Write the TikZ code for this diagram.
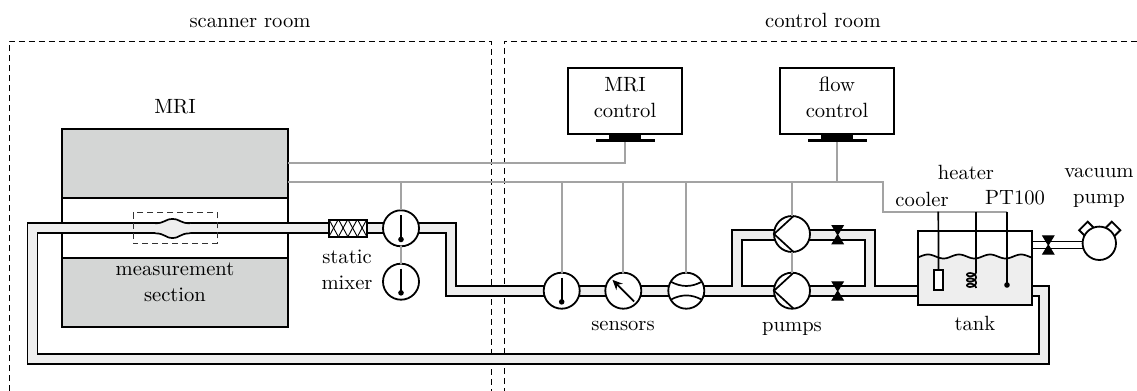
\documentclass[tikz,border=0pt]{standalone}
\usepackage{xcolor}
\usepackage{tikz}
\usetikzlibrary{shapes,arrows,arrows.meta,calc,positioning}
\definecolor{pipegray}{HTML}{EEEEEE}
\definecolor{magnetgray}{HTML}{D4D6D5}
\definecolor{signalgray}{HTML}{A3A3A3}

\begin{document}
\begin{tikzpicture}[
  x=0.5pt, y=-0.5pt,
  every node/.style={font=\fontsize{10.3}{13}\selectfont, inner sep=0pt, outer sep=0pt},
  label/.style={align=center},
  room/.style={densely dashed, line width=0.4pt},
  magnet/.style={rectangle, draw, line width=0.9pt, fill=magnetgray, minimum width=113pt, minimum height=34.5pt},
  bore/.style={rectangle, draw, line width=0.9pt, fill=white, minimum width=113pt, minimum height=30pt},
  pipe/.style={draw=black, line width=0.85pt, double=pipegray, double distance=4.15pt},
  vacline/.style={draw=black, line width=0.6pt, double=white, double distance=2.7pt},
  signal/.style={draw=signalgray, line width=0.85pt},
  probe/.style={draw=black, line width=0.85pt},
  instrument/.style={circle, draw, line width=0.9pt, fill=white, minimum size=18pt},
  monitor/.style={rectangle, draw, line width=0.9pt, fill=white, minimum width=57pt, minimum height=33pt},
  monstand/.style={rectangle, fill=black, minimum width=16pt, minimum height=2.5pt},
  monbase/.style={rectangle, fill=black, minimum width=29.5pt, minimum height=1.4pt},
  valve/.style={rectangle, minimum width=5.6pt, minimum height=9.2pt},
  mixerbox/.style={rectangle, draw, line width=1pt, fill=white, minimum width=19pt, minimum height=8.5pt},
  tankbox/.style={rectangle, minimum width=57pt, minimum height=37pt},
  ear/.style={rectangle, draw, line width=0.9pt, fill=white, minimum width=6pt, minimum height=5pt},
  arrow/.style={-{Stealth[length=5pt,width=4.5pt]}, line width=0.85pt}
]
\useasboundingbox (0,0) rectangle (1137,391);

% rooms
\draw[room] (9,391) |- (491,41) -- (491,391);
\draw[room] (1137,41) -| (504,391);
\node[label] (scanner) at (250,23) {scanner room};
\node[label] (control) at (823,20) {control room};

% magnet
\node[magnet] (mritop) at (175,163.5) {};
\node[magnet] (mribot) at (175,292.5) {};
\node[bore] (mribore) at (175,228) {};
\node[label] (mrilabel) at (175,107) {MRI};
\node[label] (measlabel) at (175,282) {measurement\\section};

% pipe corners
\coordinate (tankin) at (918,291);
\coordinate (tankout) at (1032,291);
\coordinate (bendb) at (451,291);
\coordinate (benda) at (451,228.3);
\coordinate (loopnw) at (32.5,228.3);
\coordinate (loopsw) at (32.5,359);
\coordinate (loopse) at (1044,359);
\coordinate (loopne) at (1044,291);
\coordinate (branchw) at (737,291);
\coordinate (branchnw) at (737,235);
\coordinate (branchne) at (870,235);
\coordinate (branche) at (870,291);
\coordinate (vacin) at (1032,245);
\coordinate (vacout) at (1090,245);

\draw[pipe] (tankin) -- (bendb) -- (benda) -- (loopnw) -- (loopsw) -- (loopse) -- (loopne) -- (tankout)
  (branchw) -- (branchnw) -- (branchne) -- (branche);
\draw[vacline] (vacin) -- (vacout);

% widened part of the test section
\fill[pipegray] (155,223.3) .. controls (165,223.3) and (165,219) .. (172.5,219) .. controls (180,219) and (180,223.3) .. (190,223.3)
  -- (190,233.3) .. controls (180,233.3) and (180,238) .. (172.5,238) .. controls (165,238) and (165,233.3) .. (155,233.3) -- cycle;
\draw[line width=0.85pt] (155,223.3) .. controls (165,223.3) and (165,219) .. (172.5,219) .. controls (180,219) and (180,223.3) .. (190,223.3);
\draw[line width=0.85pt] (155,233.3) .. controls (165,233.3) and (165,238) .. (172.5,238) .. controls (180,238) and (180,233.3) .. (190,233.3);
\draw[room, draw=black!80] (133,212.7) rectangle (217.5,243.3);

% mixer
\node[mixerbox, path picture={
  \foreach \i in {0,1,2,3} {
    \draw[line width=0.45pt] ($(path picture bounding box.south west)+(\i*9.5,0)$) -- ++(9.5,-17.5);
    \draw[line width=0.45pt] ($(path picture bounding box.north west)+(\i*9.5,0)$) -- ++(9.5,17.5);
  }}] (mixer) at (348,228) {};
\node[label] (mixerlabel) at (347,269.5) {static\\mixer};

% sensors
\node[instrument] (tempa) at (401,228.3) {};
\node[instrument] (tempb) at (401,281.7) {};
\node[instrument] (tempc) at (561.7,290.7) {};
\node[instrument] (gauge) at (623.3,290.7) {};
\node[instrument] (flowm) at (686.3,290.7) {};
\foreach \t in {tempa,tempb,tempc} {
  \draw[line width=0.85pt] ($(\t)!0.72!(\t.north)$) -- ($(\t)!0.62!(\t.south)$);
  \fill ($(\t)!0.62!(\t.south)$) circle (2.8);
}
\draw[arrow] ($(gauge)!0.85!(gauge.-45)$) -- ($(gauge)!0.85!(gauge.135)$);
\draw[line width=0.85pt] (flowm.150) to[bend right=28] (flowm.30);
\draw[line width=0.85pt] (flowm.-150) to[bend left=28] (flowm.-30);
\node[label] (sensorlabel) at (623,326) {sensors};

% pumps
\node[instrument] (pumpa) at (792,234) {};
\node[instrument] (pumpb) at (792,290.7) {};
\foreach \p in {pumpa,pumpb} {
  \draw[line width=0.85pt] (\p.85) -- (\p.west) -- (\p.-85);
}
\node[label] (pumplabel) at (792,328.5) {pumps};

% valves
\node[valve] (valvea) at (837.7,234.7) {};
\node[valve] (valveb) at (837.7,291) {};
\node[valve] (valvec) at (1048.3,245) {};
\foreach \v in {valvea,valveb,valvec} {
  \filldraw[line width=0.5pt] (\v.north west) -- (\v.north east) -- (\v.south west) -- (\v.south east) -- cycle;
}

% tank
\node[tankbox] (tank) at (975,268) {};
\fill[pipegray] plot[domain=918:1032, samples=80] (\x, {256.5-2*cos((\x-928)*11.6)}) -- (tank.south east) -- (tank.south west) -- cycle;
\draw[line width=0.85pt] plot[domain=918:1032, samples=80] (\x, {256.5-2*cos((\x-928)*11.6)});
\node[tankbox, draw, line width=1pt] (tankframe) at (975,268) {};
\node[label] (tanklabel) at (975,323) {tank};

% vacuum pump
\node[ear, rotate=45] (eara) at (1087,229.5) {};
\node[ear, rotate=-45] (earb) at (1112.5,229.5) {};
\node[instrument, minimum size=16.7pt] (vacpump) at (1099.3,243.3) {};
\node[label] (vaclabel) at (1099,188) {vacuum\\pump};

% monitors
\node[monitor] (mricontrol) at (625,101) {};
\node[monstand, below=0pt of mricontrol] (mristand) {};
\node[monbase, below=0pt of mristand] (mribase) {};
\node[label] (mritext) at (625,97.5) {MRI\\control};
\node[monitor] (flowcontrol) at (837,101) {};
\node[monstand, below=0pt of flowcontrol] (flowstand) {};
\node[monbase, below=0pt of flowstand] (flowbase) {};
\node[label] (flowtext) at (837,97.5) {flow\\control};

% signal lines
\coordinate (mriout) at (288,162.7);
\coordinate (busin) at (288,182.3);
\coordinate (busend) at (883,182.3);
\coordinate (tanksig) at (883,211.7);
\coordinate (coolertop) at (938.3,211.7);
\coordinate (heatertop) at (976,211.7);
\coordinate (ptend) at (1007,211.7);
\draw[signal] (mriout) -| (mribase.south);
\draw[signal] (busin) -- (busend) -- (tanksig) -- (ptend);
\draw[signal] (flowbase.south) -- (flowbase.south |- busin);
\foreach \s in {tempa,tempc,gauge,flowm,pumpa} {
  \draw[signal] (\s.north) -- (\s.north |- busin);
}
\draw[signal] (tempa.south) -- (tempb.north);
\draw[signal] (pumpa.south) -- (pumpb.north);

% tank probes
\node[rectangle, draw, line width=0.85pt, fill=white, minimum width=4.6pt, minimum height=10pt] (cooler) at (938.6,280) {};
\coordinate (ptdot) at (1007,285);
\coordinate (coiltop) at (976,272);
\draw[probe] (coolertop) -- (cooler.north);
\draw[probe] (heatertop) -- (coiltop);
\draw[line width=0.85pt] plot[domain=0:1080, samples=120] ({971.5+4.5*cos(\x)}, {272+\x/67.5+2.8*sin(\x)});
\draw[probe] (ptend) -- (ptdot);
\fill (ptdot) circle (2.8);
\node[label] (coolerlabel) at (922,199) {cooler};
\node[label] (heaterlabel) at (966,172) {heater};
\node[label] (ptlabel) at (1015,198) {PT100};

\end{tikzpicture}
\end{document}
